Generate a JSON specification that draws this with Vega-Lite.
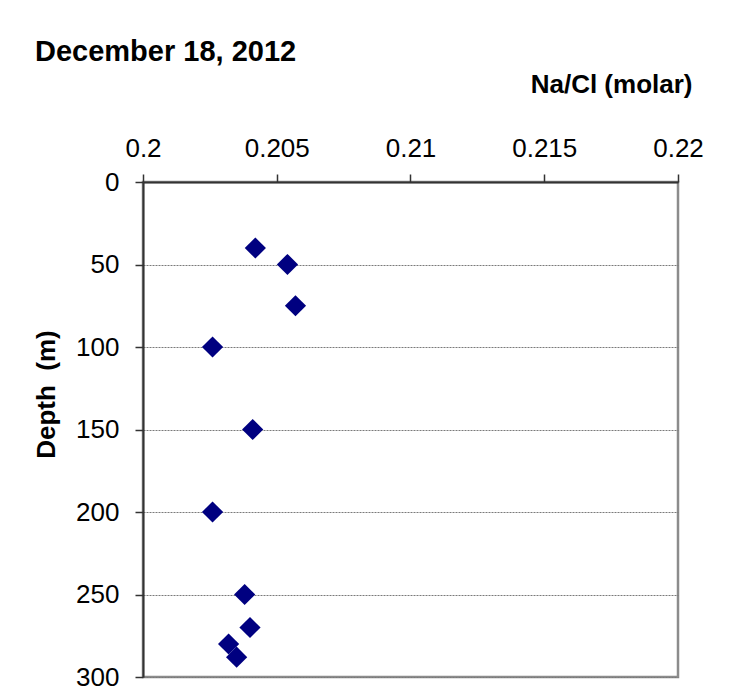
{
  "$schema": "https://vega.github.io/schema/vega-lite/v6.json",
  "width": 535,
  "height": 495,
  "autosize": {"type": "none"},
  "padding": {"left": 143, "top": 182, "right": 54, "bottom": 12},
  "background": "white",
  "title": {
    "text": "December 18, 2012",
    "anchor": "start",
    "frame": "group",
    "dx": -108,
    "font": "Liberation Sans",
    "fontSize": 29,
    "fontWeight": "bold",
    "color": "black"
  },
  "config": {
    "view": {"stroke": "#8c8c8c", "strokeWidth": 2.5},
    "axis": {
      "labelFont": "Liberation Sans",
      "labelFontSize": 26,
      "labelColor": "black",
      "titleFont": "Liberation Sans",
      "titleFontSize": 26,
      "titleFontWeight": "bold",
      "titleColor": "black",
      "domainColor": "#333333",
      "domainWidth": 2,
      "tickColor": "#333333",
      "tickWidth": 1.5,
      "tickSize": 8
    }
  },
  "data": {
    "values": [
      {"ratio": 0.2042, "depth": 40},
      {"ratio": 0.2054, "depth": 50},
      {"ratio": 0.2057, "depth": 75},
      {"ratio": 0.2026, "depth": 100},
      {"ratio": 0.2041, "depth": 150},
      {"ratio": 0.2026, "depth": 200},
      {"ratio": 0.2038, "depth": 250},
      {"ratio": 0.2040, "depth": 270},
      {"ratio": 0.2032, "depth": 280},
      {"ratio": 0.2035, "depth": 288}
    ]
  },
  "mark": {"type": "point", "shape": "diamond", "filled": true, "color": "#000080", "opacity": 1, "size": 450},
  "encoding": {
    "x": {
      "field": "ratio",
      "type": "quantitative",
      "scale": {"domain": [0.2, 0.22], "nice": false, "zero": false},
      "axis": {
        "orient": "top",
        "title": "Na/Cl (molar)",
        "values": [0.2, 0.205, 0.21, 0.215, 0.22],
        "format": ".3~f",
        "grid": false,
        "labelPadding": 13,
        "labelFlush": false,
        "titleAnchor": "end",
        "titleAlign": "right",
        "titleBaseline": "alphabetic",
        "titleX": 549,
        "titleY": -90
      }
    },
    "y": {
      "field": "depth",
      "type": "quantitative",
      "scale": {"domain": [0, 300], "reverse": true, "nice": false},
      "axis": {
        "title": "Depth \u00a0(m)",
        "values": [0, 50, 100, 150, 200, 250, 300],
        "labelPadding": 16,
        "labelFlush": false,
        "grid": true,
        "gridColor": "#7a7a7a",
        "gridDash": [2, 1],
        "gridWidth": 1,
        "titleAngle": -90,
        "titleAlign": "center",
        "titleBaseline": "middle",
        "titleX": -97,
        "titleY": 212
      }
    }
  }
}
